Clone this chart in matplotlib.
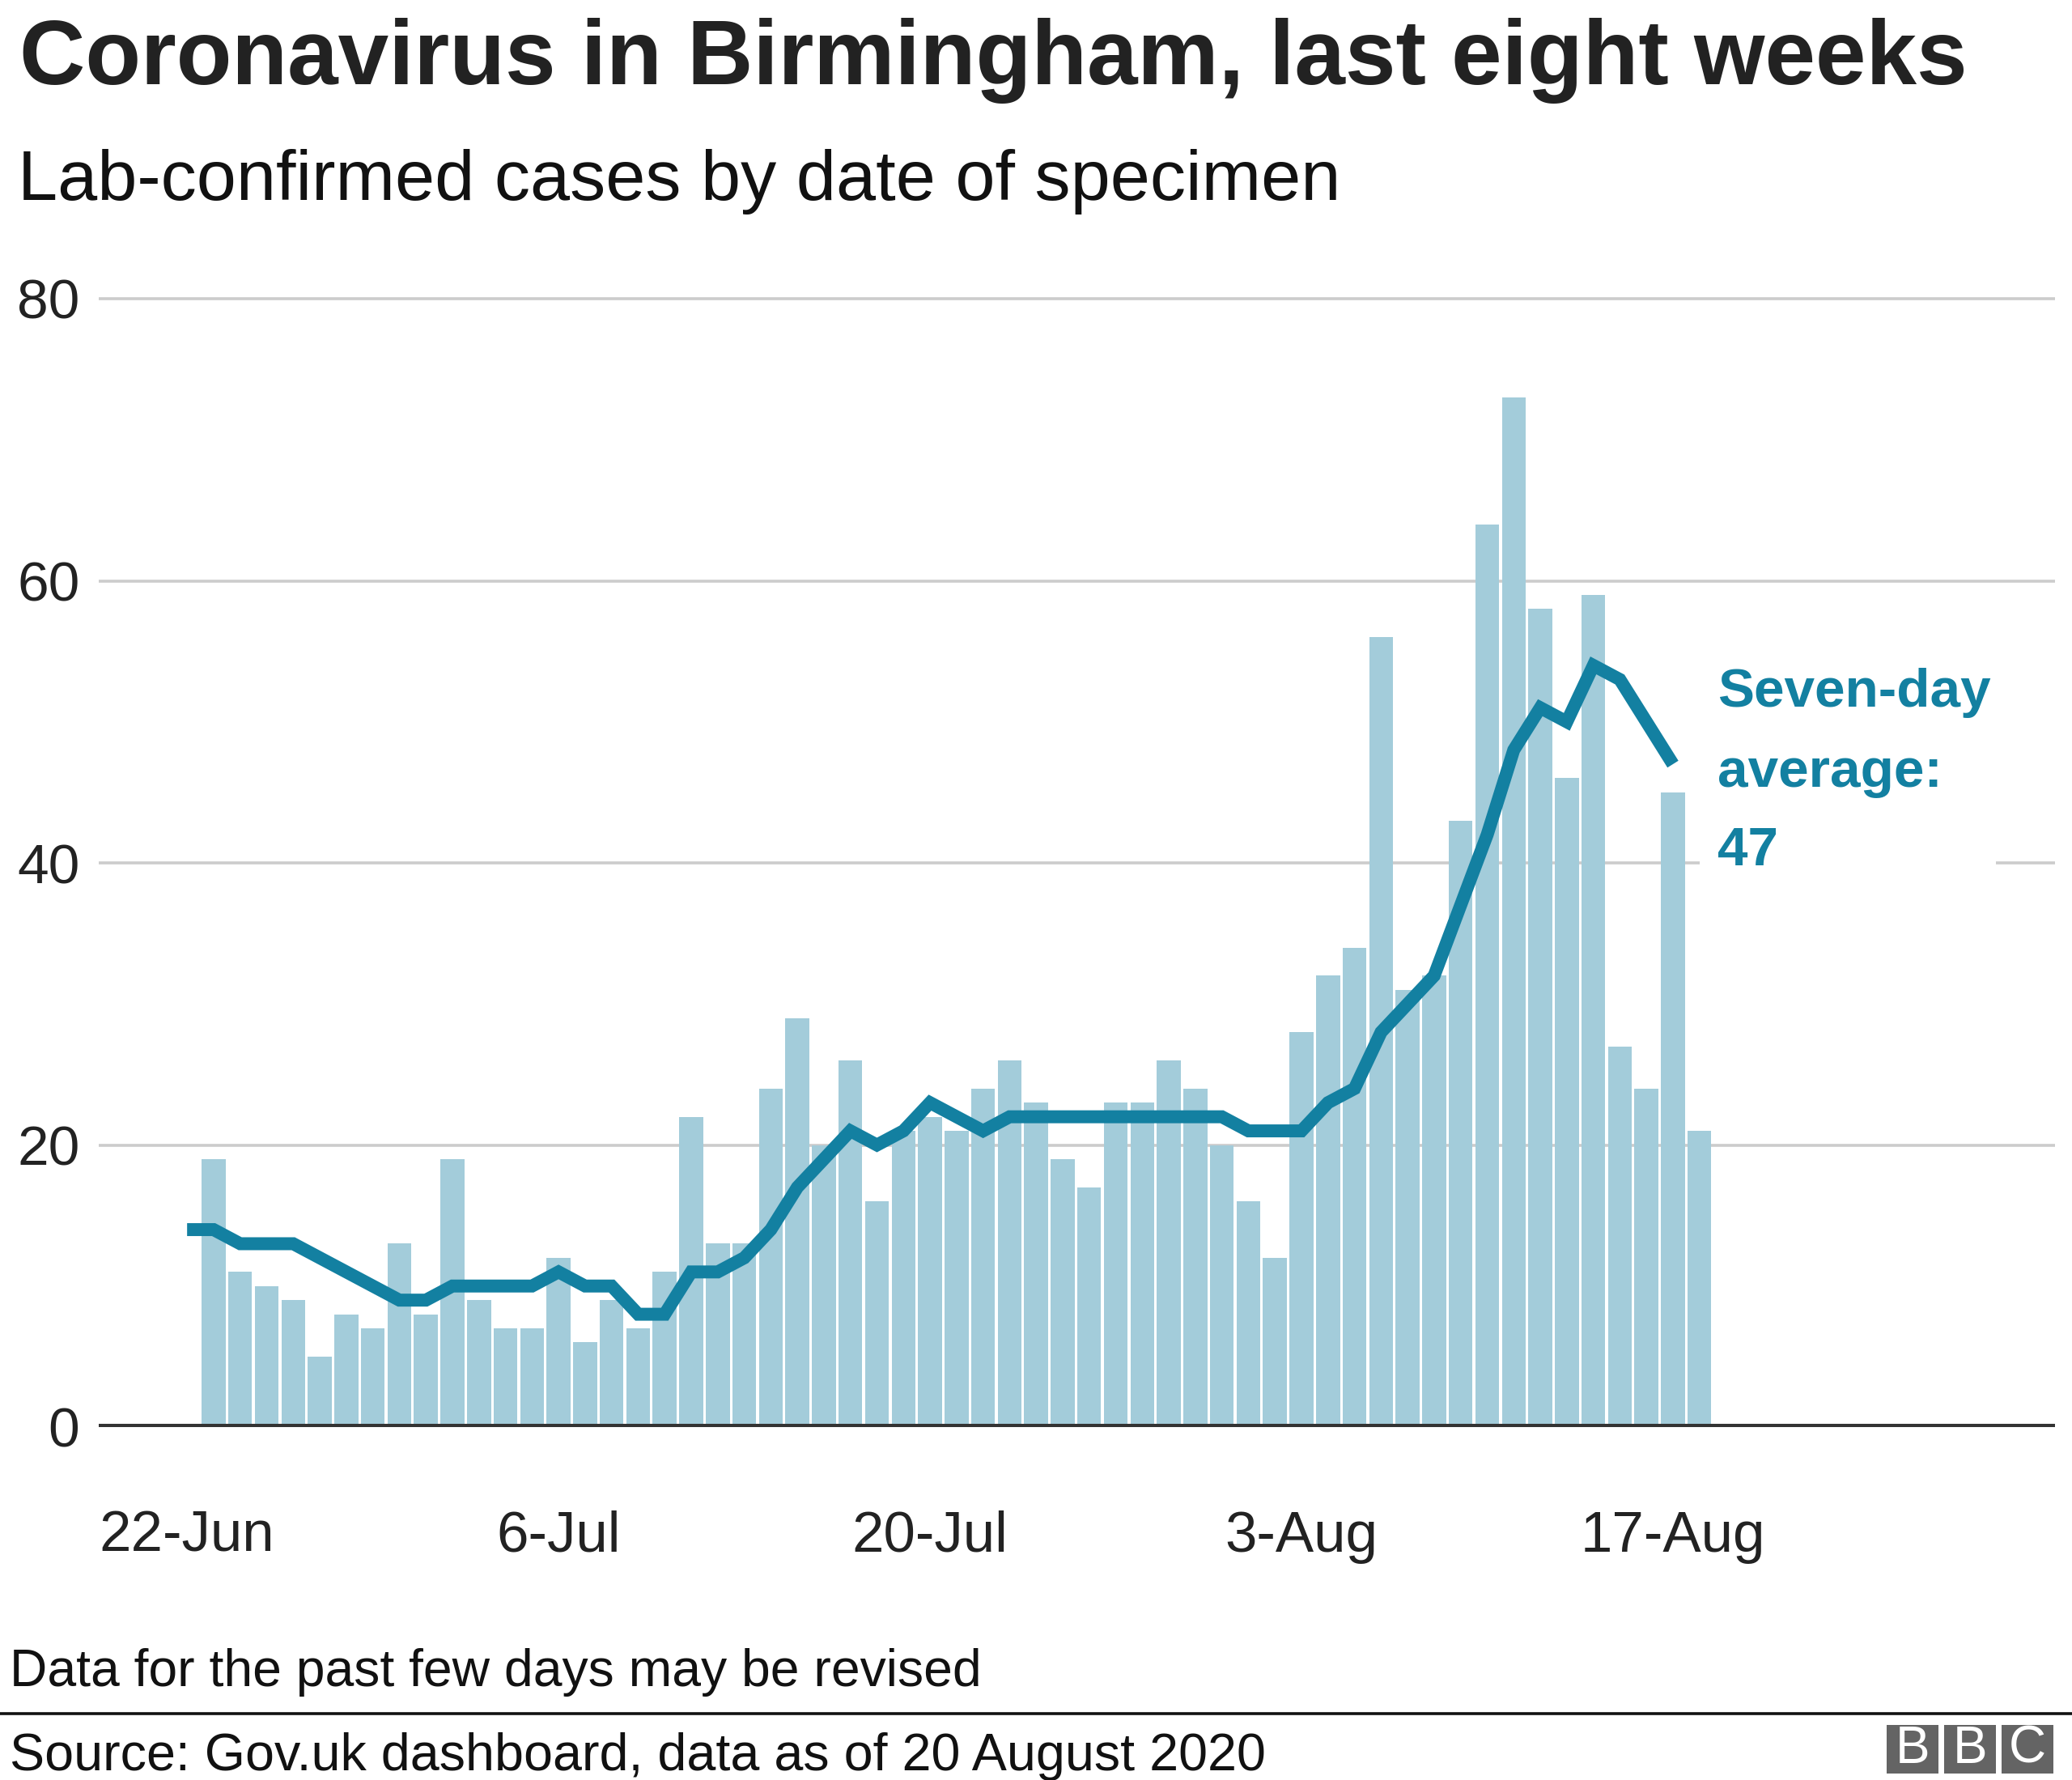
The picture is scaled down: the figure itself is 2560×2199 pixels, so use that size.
import numpy as np
import matplotlib
matplotlib.use("Agg")
import matplotlib.pyplot as plt
import matplotlib.dates as mdates
from matplotlib.patches import Rectangle
from matplotlib.lines import Line2D

# ---------------- data ----------------
bar_start = "2020-06-23"   # first daily bar
cases = [19, 11, 10, 9, 5, 8, 7, 13, 8, 19, 9, 7, 7, 12, 6, 9, 7, 11, 22, 13,
         13, 24, 29, 20, 26, 16, 21, 22, 21, 24, 26, 23, 19, 17, 23, 23, 26, 24,
         20, 16, 12, 28, 32, 34, 56, 31, 32, 43, 64, 73, 58, 46, 59, 27, 24, 45, 21]

avg_start = "2020-06-22"   # first point of the seven-day average
avg7 = [14, 14, 13, 13, 13, 12, 11, 10, 9, 9, 10, 10, 10, 10, 11, 10, 10, 8, 8,
        11, 11, 12, 14, 17, 19, 21, 20, 21, 23, 22, 21, 22, 22, 22, 22, 22, 22,
        22, 22, 22, 21, 21, 21, 23, 24, 28, 30, 32, 37, 42, 48, 51, 50, 54, 53,
        50, 47]

tick_dates = ["2020-06-22", "2020-07-06", "2020-07-20", "2020-08-03", "2020-08-17"]
tick_labels = ["22-Jun", "6-Jul", "20-Jul", "3-Aug", "17-Aug"]
y_ticks = [0, 20, 40, 60, 80]

title = "Coronavirus in Birmingham, last eight weeks"
subtitle = "Lab-confirmed cases by date of specimen"
note = "Data for the past few days may be revised"
source = "Source: Gov.uk dashboard, data as of 20 August 2020"
annot = ["Seven-day", "average:", "47"]

# ---------------- style ----------------
W, H = 2560, 2199
DPI = 100
BAR_C = "#a3ccda"
LINE_C = "#1380a1"
TXT_C = "#222222"
FONT = "Liberation Sans"
plt.rcParams["font.family"] = [FONT, "DejaVu Sans"]

fig = plt.figure(figsize=(W / DPI, H / DPI), dpi=DPI, facecolor="white")

def fx(px):
    return px / W

def fy(py):
    return 1 - py / H

# axes placement (pixels)
ax_left, ax_right = 122, 2539
zero_y, per_unit = 1763, 17.425
ymax = 81
ax_top = zero_y - ymax * per_unit
ax = fig.add_axes([fx(ax_left), fy(zero_y), (ax_right - ax_left) / W, (zero_y - ax_top) / H])

bar_dates = np.arange(np.datetime64(bar_start), np.datetime64(bar_start) + len(cases))
avg_dates = np.arange(np.datetime64(avg_start), np.datetime64(avg_start) + len(avg7))

ax.bar(bar_dates, cases, width=0.9, color=BAR_C, zorder=2, linewidth=0)
ax.plot(avg_dates, avg7, color=LINE_C, lw=11.5, solid_capstyle="butt",
        solid_joinstyle="miter", zorder=4)
ax.axhline(0, color="#333333", lw=5.8, zorder=5)

x0 = mdates.date2num(np.datetime64(avg_start))
ax.set_xlim(x0 - 3.33, x0 + 70.4)
ax.set_ylim(0, ymax)

ax.set_yticks(y_ticks)
ax.set_yticklabels([str(v) for v in y_ticks])
ax.set_xticks([mdates.date2num(np.datetime64(d)) for d in tick_dates])
ax.set_xticklabels(tick_labels)
ax.yaxis.grid(True, color="#cccccc", lw=2.6)
ax.xaxis.grid(False)
ax.set_axisbelow(True)
for s in ax.spines.values():
    s.set_visible(False)
ax.tick_params(axis="both", length=0, colors=TXT_C)
ax.tick_params(axis="y", labelsize=50, pad=17)
ax.tick_params(axis="x", labelsize=51, pad=74)
for lab in ax.get_yticklabels() + ax.get_xticklabels():
    lab.set_color(TXT_C)

# white gap in the 40 gridline behind the annotation
fig.add_artist(Rectangle((fx(2100), fy(1078)), (2466 - 2100) / W, 24 / H,
                         transform=fig.transFigure, facecolor="white",
                         edgecolor="none", zorder=1))

# annotation
for txt, base in zip(annot, [873, 972, 1069]):
    fig.text(fx(2122), fy(base), txt, color=LINE_C, fontsize=48.6,
             fontweight="bold", va="baseline", ha="left", zorder=6)

# titles
fig.text(fx(24), fy(104), title, fontsize=81, fontweight="bold", color=TXT_C,
         va="baseline", ha="left")
fig.text(fx(22), fy(247), subtitle, fontsize=63.5, color="#111111",
         va="baseline", ha="left")

# footer
fig.text(fx(12), fy(2083), note, fontsize=46.3, color="#111111",
         va="baseline", ha="left")
fig.add_artist(Line2D([0, 1], [fy(2117), fy(2117)], transform=fig.transFigure,
                      color="#111111", lw=2.6))
fig.text(fx(12), fy(2187), source, fontsize=46.5, color="#111111",
         va="baseline", ha="left")

# BBC logo
for i, letter in enumerate("BBC"):
    bx = 2331 + i * 71
    fig.add_artist(Rectangle((fx(bx), fy(2191)), 64 / W, 60 / H,
                             transform=fig.transFigure, facecolor="#646464",
                             edgecolor="none"))
    fig.text(fx(bx + 32), fy(2161), letter, color="white", fontsize=46,
             ha="center", va="center")

fig.savefig("out.png", dpi=DPI, facecolor="white")
